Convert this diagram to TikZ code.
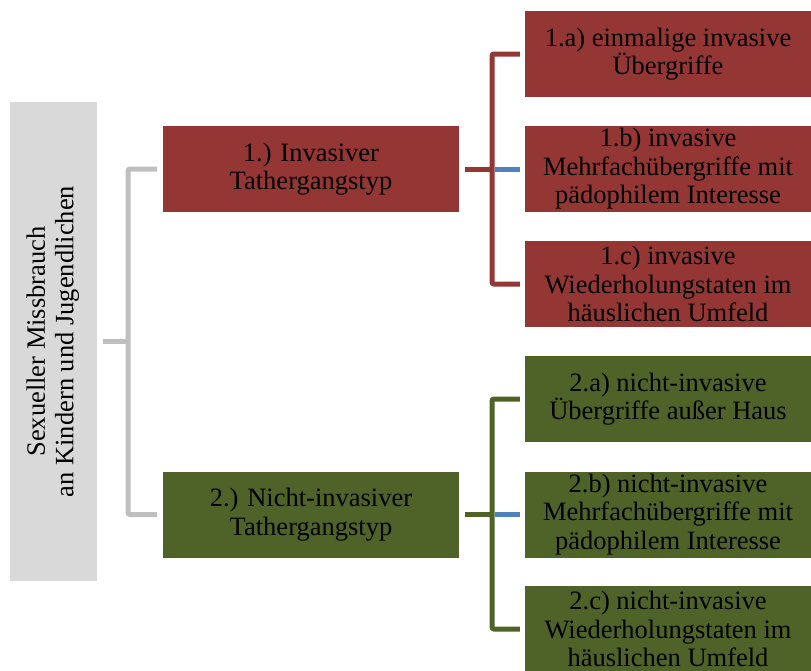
\documentclass[tikz,border=0pt]{standalone}
\usepackage{fontspec}
\setmainfont{Liberation Serif}
\begin{document}
\definecolor{invred}{HTML}{943634}
\definecolor{nongreen}{HTML}{4F6228}
\definecolor{rootgrey}{HTML}{D9D9D9}
\definecolor{linkgrey}{HTML}{BFBFBF}
\definecolor{midblue}{HTML}{4F81BD}
\begin{tikzpicture}[x=1pt,y=-1pt,
  box/.style={rectangle, inner sep=0pt, align=center,
    font=\fontsize{26.5}{28.5}\selectfont, text=black},
  rootbox/.style={box, fill=rootgrey, minimum width=87, minimum height=479},
  typebox/.style={box, minimum width=296, minimum height=86},
  subbox/.style={box, minimum width=286, minimum height=86},
  link/.style={line width=5pt, rounded corners=2pt},
]
\useasboundingbox (0,0) rectangle (811,670);

% root category
\node[rootbox] (root) at (53.5,341.5)
  {\rotatebox{90}{\begin{tabular}{@{}c@{}}Sexueller Missbrauch\\an Kindern und Jugendlichen\end{tabular}}};

% main types
\node[typebox, fill=invred]   (t1) at (311,169)   {1.) Invasiver\\Tathergangstyp};
\node[typebox, fill=nongreen] (t2) at (311,514.5) {2.) Nicht-invasiver\\Tathergangstyp};

% subtypes
\node[subbox, fill=invred]   (s1a) at (668,54)  {1.a) einmalige invasive\\Übergriffe};
\node[subbox, fill=invred]   (s1b) at (668,169) {1.b) invasive\\Mehrfachübergriffe mit\\pädophilem Interesse};
\node[subbox, fill=invred]   (s1c) at (668,284) {1.c) invasive\\Wiederholungstaten im\\häuslichen Umfeld};
\node[subbox, fill=nongreen] (s2a) at (668,399) {2.a) nicht-invasive\\Übergriffe außer Haus};
\node[subbox, fill=nongreen] (s2b) at (668,514.5) {2.b) nicht-invasive\\Mehrfachübergriffe mit\\pädophilem Interesse};
\node[subbox, fill=nongreen] (s2c) at (668,629) {2.c) nicht-invasive\\Wiederholungstaten im\\häuslichen Umfeld};

% bracket junctions
\coordinate (j0) at (128,341.5);
\coordinate (j1) at (492,169);
\coordinate (j2) at (492,514.5);

% root -> types
\draw[link, linkgrey] ([xshift=-6pt]t1.west) -| (j0) |- ([xshift=-6pt]t2.west);
\draw[link, linkgrey] ([xshift=6pt]root.east) -- (j0);

% invasive type -> subtypes
\draw[link, invred] ([xshift=-5pt]s1a.west) -| (j1) |- ([xshift=-5pt]s1c.west);
\draw[link, invred] ([xshift=6pt]t1.east) -- (j1);
\draw[line width=5pt, midblue] ([xshift=3pt]j1) -- ([xshift=-5pt]s1b.west);

% non-invasive type -> subtypes
\draw[link, nongreen] ([xshift=-5pt]s2a.west) -| (j2) |- ([xshift=-5pt]s2c.west);
\draw[link, nongreen] ([xshift=6pt]t2.east) -- (j2);
\draw[line width=5pt, midblue] ([xshift=3pt]j2) -- ([xshift=-5pt]s2b.west);
\end{tikzpicture}
\end{document}
